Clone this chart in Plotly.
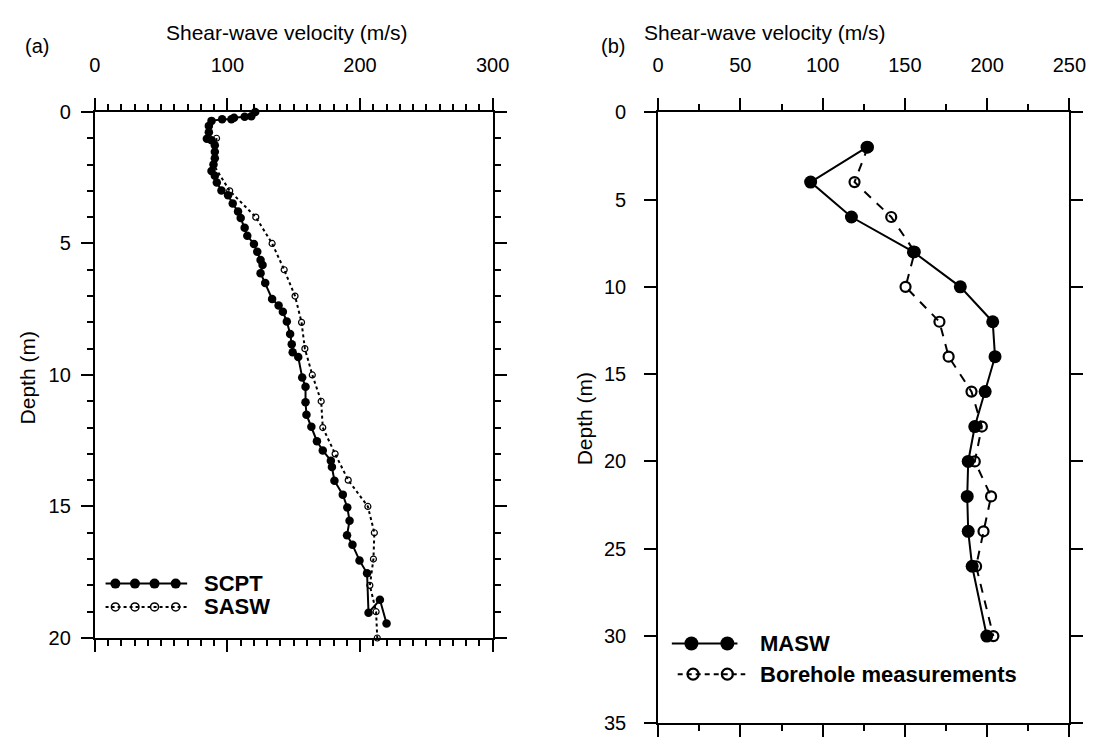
import plotly.graph_objects as go

W, H = 1104, 747

# ---------------- Panel (a) data ----------------
scpt_depth = [0.00, 0.16, 0.18, 0.22, 0.28, 0.28, 0.34, 0.53, 0.77, 1.02, 1.08, 1.27, 1.51, 1.76,
              2.00, 2.25, 2.43, 2.68, 2.99, 3.17, 3.48, 3.79, 4.03, 4.40, 4.71, 5.02, 5.32, 5.63,
              5.82, 6.13, 6.50, 7.11, 7.36, 7.60, 7.97, 8.44, 8.83, 9.14, 9.32, 10.10, 10.45,
              11.04, 11.51, 11.97, 12.52, 12.87, 13.26, 13.50, 14.02, 14.55, 15.04, 15.54, 16.09,
              16.46, 17.05, 17.54, 19.04, 18.55, 19.45]
scpt_vel = [121, 118, 113, 105, 103, 96, 88, 86, 86, 84.5, 88, 90.5, 90.5, 90.5,
            89.5, 88, 90.5, 92, 95.5, 100.5, 104, 108, 110, 113, 115, 120, 122.5, 125,
            126.5, 125, 128.5, 133.7, 138.6, 141.8, 144.8, 147.3, 148.5, 149.2, 153.4, 156.4, 158.9,
            158.9, 159.6, 163.3, 167.5, 171.9, 178, 178.8, 180.7, 187, 190.4, 192.1, 190.2,
            194.3, 199.6, 205.3, 206.4, 215.0, 220]

sasw_depth = [1, 2, 3, 4, 5, 6, 7, 8, 9, 10, 11, 12, 13, 14, 15, 16, 17, 18, 19, 20]
sasw_vel = [91.8, 89.4, 101.7, 121.4, 133.7, 142.8, 151, 155.9, 158.4, 164, 170.7, 171.9,
            181.2, 191.1, 205.9, 210.8, 210.1, 207.4, 212.1, 213]

# ---------------- Panel (b) data ----------------
masw_depth = [2, 4, 6, 8, 10, 12, 14, 16, 18, 20, 22, 24, 26, 30]
masw_vel = [127, 92.7, 117.5, 155.2, 183.7, 203.4, 204.8, 198.8, 192.5, 188.5, 187.9, 188.5, 190.9, 199.8]

bore_depth = [2, 4, 6, 8, 10, 12, 14, 16, 18, 20, 22, 24, 26, 30]
bore_vel = [127.5, 119.4, 141.7, 156, 150.4, 171.0, 176.6, 190.5, 196.8, 192.5, 202.4, 197.8, 193.3, 203.8]

# axis settings
xa_range, xa_major, xa_minor = [0, 300], 100, 10
ya_range, ya_major, ya_minor = [20, 0], 5, 1
xb_range, xb_major, xb_minor = [0, 250], 50, 25
yb_range, yb_major = [35, 0], 5

FONT = "Liberation Sans, Arial, sans-serif"

def px(x):
    return x / W

def py(y):
    return 1 - y / H

fig = go.Figure()

# Panel (a)
fig.add_trace(go.Scatter(x=sasw_vel, y=sasw_depth, mode="lines+markers", xaxis="x", yaxis="y",
                         line=dict(color="black", width=2, dash="3px,3px"),
                         marker=dict(symbol="circle-open", size=6, color="black", line=dict(width=1.2)),
                         cliponaxis=False, showlegend=False))
fig.add_trace(go.Scatter(x=scpt_vel, y=scpt_depth, mode="lines+markers", xaxis="x", yaxis="y",
                         line=dict(color="black", width=2),
                         marker=dict(symbol="circle", size=8.5, color="black"),
                         cliponaxis=False, showlegend=False))

# Panel (b)
fig.add_trace(go.Scatter(x=bore_vel, y=bore_depth, mode="lines+markers", xaxis="x2", yaxis="y2",
                         line=dict(color="black", width=2, dash="9px,8px"),
                         marker=dict(symbol="circle-open", size=10, color="black", line=dict(width=2.2)),
                         cliponaxis=False, showlegend=False))
fig.add_trace(go.Scatter(x=masw_vel, y=masw_depth, mode="lines+markers", xaxis="x2", yaxis="y2",
                         line=dict(color="black", width=2),
                         marker=dict(symbol="circle", size=13, color="black"),
                         cliponaxis=False, showlegend=False))

# ---------------- hand-drawn legends on a pixel overlay axis ----------------
leg_scpt_x = [101.7, 185]
leg_scpt_mk = [111.7, 131.7, 151.7, 173.3]
fig.add_trace(go.Scatter(x=leg_scpt_x, y=[590, 590], mode="lines", xaxis="x3", yaxis="y3",
                         line=dict(color="black", width=2), showlegend=False, hoverinfo="skip"))
fig.add_trace(go.Scatter(x=leg_scpt_mk, y=[590] * 4, mode="markers", xaxis="x3", yaxis="y3",
                         marker=dict(symbol="circle", size=10, color="black"), showlegend=False, hoverinfo="skip"))
fig.add_trace(go.Scatter(x=leg_scpt_x, y=[614, 614], mode="lines", xaxis="x3", yaxis="y3",
                         line=dict(color="black", width=2, dash="3px,3px"), showlegend=False, hoverinfo="skip"))
fig.add_trace(go.Scatter(x=leg_scpt_mk, y=[614] * 4, mode="markers", xaxis="x3", yaxis="y3",
                         marker=dict(symbol="circle-open", size=8, color="black", line=dict(width=1.5)),
                         showlegend=False, hoverinfo="skip"))

fig.add_trace(go.Scatter(x=[680, 747], y=[651.7, 651.7], mode="lines", xaxis="x3", yaxis="y3",
                         line=dict(color="black", width=2), showlegend=False, hoverinfo="skip"))
fig.add_trace(go.Scatter(x=[700, 736.7], y=[651.7, 651.7], mode="markers", xaxis="x3", yaxis="y3",
                         marker=dict(symbol="circle", size=14, color="black"), showlegend=False, hoverinfo="skip"))
fig.add_trace(go.Scatter(x=[686, 755], y=[683.3, 683.3], mode="lines", xaxis="x3", yaxis="y3",
                         line=dict(color="black", width=2, dash="5px,4px"), showlegend=False, hoverinfo="skip"))
fig.add_trace(go.Scatter(x=[701.7, 736.7], y=[683.3, 683.3], mode="markers", xaxis="x3", yaxis="y3",
                         marker=dict(symbol="circle-open", size=11, color="black", line=dict(width=2.2)),
                         showlegend=False, hoverinfo="skip"))

axis_common = dict(showgrid=False, zeroline=False, showline=True, linecolor="black", linewidth=2,
                   ticks="outside", tickcolor="black", tickwidth=2, ticklen=12, mirror="ticks",
                   tickfont=dict(family=FONT, size=20, color="black"))

fig.update_layout(
    width=W, height=H, margin=dict(l=0, r=0, t=0, b=0),
    paper_bgcolor="white", plot_bgcolor="rgba(0,0,0,0)",
    xaxis=dict(**axis_common, domain=[px(90.7), px(497)], range=xa_range, side="top",
               anchor="y", dtick=xa_major, tick0=0, ticklabelstandoff=18,
               minor=dict(dtick=xa_minor, ticklen=6, tickwidth=2, tickcolor="black", ticks="outside")),
    yaxis=dict(**axis_common, domain=[py(646), py(104)], range=ya_range, anchor="x",
               dtick=ya_major, tick0=0, ticklabelstandoff=6,
               minor=dict(dtick=ya_minor, ticklen=6, tickwidth=2, tickcolor="black", ticks="outside")),
    xaxis2=dict(**axis_common, domain=[px(666), px(1086)], range=xb_range, side="top",
                anchor="y2", dtick=xb_major, tick0=0, ticklabelstandoff=18,
                minor=dict(dtick=xb_minor, ticklen=6, tickwidth=2, tickcolor="black", ticks="outside")),
    yaxis2=dict(**axis_common, domain=[py(734), py(104.3)], range=yb_range, anchor="x2",
                dtick=yb_major, tick0=0, ticklabelstandoff=14),
    xaxis3=dict(domain=[0, 1], range=[0, W], visible=False, anchor="y3", fixedrange=True),
    yaxis3=dict(domain=[0, 1], range=[H, 0], visible=False, anchor="x3", fixedrange=True),
)

ann = [
    dict(text="(a)", x=px(31.5), y=py(36)),
    dict(text="(b)", x=px(620), y=py(36)),
    dict(text="Shear-wave velocity (m/s)", x=px(287), y=py(22), size=21),
    dict(text="Shear-wave velocity (m/s)", x=px(775), y=py(22), size=21),
    dict(text="Depth (m)", x=px(22), y=py(378), size=21, angle=-90),
    dict(text="Depth (m)", x=px(591), y=py(420), size=21, angle=-90),
]
for a in ann:
    fig.add_annotation(text=a["text"], x=a["x"], y=a["y"], xref="paper", yref="paper",
                       xanchor="center", yanchor="middle", showarrow=False,
                       textangle=a.get("angle", 0),
                       font=dict(family=FONT, size=a.get("size", 20), color="black"))

legtxt = [("SCPT", 200, 590), ("SASW", 200, 614),
          ("MASW", 768, 651.7), ("Borehole measurements", 768, 683.3)]
for t, x, y in legtxt:
    fig.add_annotation(text="<b>%s</b>" % t, x=px(x), y=py(y), xref="paper", yref="paper",
                       xanchor="left", yanchor="middle", showarrow=False,
                       font=dict(family=FONT, size=22, color="black"))

fig.write_html("out.html", config={"displayModeBar": False},
               post_script="document.body.style.margin='0';document.body.style.overflow='hidden';")
